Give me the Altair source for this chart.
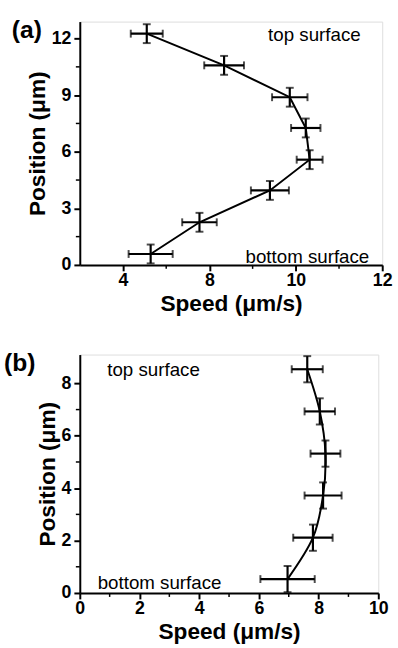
import altair as alt
import pandas as pd

# ---- Panel (a) data ----
a_pos = [0.58, 2.26, 3.95, 5.58, 7.26, 8.89, 10.58, 12.26]
a_speed = [6.64, 7.77, 9.40, 10.32, 10.23, 9.86, 8.34, 6.55]
a_speed_err = [0.51, 0.40, 0.44, 0.30, 0.34, 0.41, 0.46, 0.37]
a_pos_err = [0.5, 0.5, 0.5, 0.5, 0.5, 0.5, 0.5, 0.5]
a_x_ticks = [6, 8, 10, 12]
a_x_labels = ["4", "8", "10", "12"]
a_x_minor = [7, 9, 11]
a_y_ticks = [0, 3, 6, 9, 12]
a_y_minor = [1.5, 4.5, 7.5, 10.5]

# ---- Panel (b) data ----
b_pos = [0.53, 2.11, 3.72, 5.32, 6.93, 8.54]
b_speed = [6.96, 7.81, 8.15, 8.23, 8.04, 7.62]
b_speed_err = [0.91, 0.66, 0.62, 0.50, 0.51, 0.52]
b_pos_err = [0.5, 0.5, 0.5, 0.5, 0.5, 0.5]
b_x_ticks = [0, 2, 4, 6, 8, 10]
b_x_minor = [1, 3, 5, 7, 9]
b_y_ticks = [0, 2, 4, 6, 8]
b_y_minor = [1, 3, 5, 7]

FONT = "Liberation Sans"


def make_df(pos, speed, serr, perr):
    return pd.DataFrame({
        "pos": pos, "speed": speed,
        "slo": [s - e for s, e in zip(speed, serr)],
        "shi": [s + e for s, e in zip(speed, serr)],
        "plo": [p - e for p, e in zip(pos, perr)],
        "phi": [p + e for p, e in zip(pos, perr)],
        "order": list(range(len(pos))),
    })


def panel(df, xdom, ydom, xticks, xlabels, xminor, yticks, yminor,
          interp, texts, tag, tag_dx, w, h):
    xs = alt.Scale(domain=xdom, nice=False, zero=False)
    ys = alt.Scale(domain=ydom, nice=False, zero=False)
    if xlabels is not None:
        expr = " : ".join(
            f"datum.value == {v} ? '{l}'" for v, l in zip(xticks, xlabels)
        ) + " : datum.label"
    else:
        expr = "datum.label"
    xaxis = alt.Axis(values=xticks, labelExpr=expr, title="Speed (\u03bcm/s)",
                     grid=False, tickSize=6, tickWidth=2, domainWidth=2,
                     labelFont=FONT, labelFontSize=18, labelFontWeight="bold",
                     titleFont=FONT, titleFontSize=23, titleFontWeight="bold",
                     labelPadding=1, titlePadding=3, orient="bottom",
                     labelColor="black", titleColor="black",
                     domainColor="black", tickColor="black", labelFlush=False)
    yaxis = alt.Axis(values=yticks, title="Position (\u03bcm)", grid=False,
                     tickSize=6, tickWidth=2, domainWidth=2,
                     labelFont=FONT, labelFontSize=18, labelFontWeight="bold",
                     titleFont=FONT, titleFontSize=23, titleFontWeight="bold",
                     labelPadding=3, titlePadding=2, orient="left",
                     labelColor="black", titleColor="black",
                     domainColor="black", tickColor="black", labelFlush=False)

    base = alt.Chart(df)
    hbar = base.mark_rule(strokeWidth=2.2, color="black").encode(
        x=alt.X("slo:Q", scale=xs, axis=xaxis),
        x2="shi:Q",
        y=alt.Y("pos:Q", scale=ys, axis=yaxis),
    )
    vbar = base.mark_rule(strokeWidth=2.2, color="black").encode(
        x=alt.X("speed:Q", scale=xs),
        y=alt.Y("plo:Q", scale=ys),
        y2="phi:Q",
    )
    line = base.mark_line(strokeWidth=2, color="black", interpolate=interp).encode(
        x=alt.X("speed:Q", scale=xs),
        y=alt.Y("pos:Q", scale=ys),
        order="order:Q",
    )
    capl = base.mark_tick(orient="vertical", size=8, thickness=2, color="black").encode(
        x=alt.X("slo:Q", scale=xs), y=alt.Y("pos:Q", scale=ys))
    capr = base.mark_tick(orient="vertical", size=8, thickness=2, color="black").encode(
        x=alt.X("shi:Q", scale=xs), y=alt.Y("pos:Q", scale=ys))
    capb = base.mark_tick(orient="horizontal", size=8, thickness=2, color="black").encode(
        x=alt.X("speed:Q", scale=xs), y=alt.Y("plo:Q", scale=ys))
    capt = base.mark_tick(orient="horizontal", size=8, thickness=2, color="black").encode(
        x=alt.X("speed:Q", scale=xs), y=alt.Y("phi:Q", scale=ys))

    # minor tick marks drawn at data positions via the shared scales
    xm = alt.Chart(pd.DataFrame({"v": xminor})).mark_rule(
        strokeWidth=1.5, color="black").encode(
        x=alt.X("v:Q", scale=xs), y=alt.value(h), y2=alt.value(h + 4))
    ym = alt.Chart(pd.DataFrame({"v": yminor})).mark_rule(
        strokeWidth=1.5, color="black").encode(
        y=alt.Y("v:Q", scale=ys), x=alt.value(0), x2=alt.value(-4))

    layers = [hbar, vbar, line, capl, capr, capb, capt, xm, ym]
    for (txt, tx, ty, align) in texts:
        layers.append(
            alt.Chart(pd.DataFrame({"t": [txt]})).mark_text(
                font=FONT, fontSize=19, align=align, baseline="middle",
                color="black").encode(
                x=alt.X(datum=tx, scale=xs),
                y=alt.Y(datum=ty, scale=ys),
                text="t:N",
            )
        )
    layers.append(
        alt.Chart(pd.DataFrame({"t": [tag]})).mark_text(
            font=FONT, fontSize=25, fontWeight="bold", align="left",
            baseline="top", color="black").encode(
            x=alt.value(tag_dx), y=alt.value(-3), text="t:N")
    )
    return alt.layer(*layers).properties(width=w, height=h)


dfa = make_df(a_pos, a_speed, a_speed_err, a_pos_err)
dfb = make_df(b_pos, b_speed, b_speed_err, b_pos_err)

pa = panel(dfa, [5, 12], [0, 12.9], a_x_ticks, a_x_labels, a_x_minor,
           a_y_ticks, a_y_minor, "linear",
           [("top surface", 11.5, 12.2, "right"),
            ("bottom surface", 11.7, 0.42, "right")],
           "(a)", -69, 307, 247)
pb = panel(dfb, [0, 10], [0, 9.1], b_x_ticks, None, b_x_minor,
           b_y_ticks, b_y_minor, "cardinal",
           [("top surface", 0.92, 8.5, "left"),
            ("bottom surface", 0.6, 0.38, "left")],
           "(b)", -77, 303, 242)

chart = alt.vconcat(pa, pb, spacing=35).configure_view(
    stroke="black", strokeWidth=2.5
).configure(padding={"left": 3, "top": 13, "right": 5, "bottom": 3}, background="white")

chart.save("out.html", embed_options={"renderer": "svg", "actions": False})
